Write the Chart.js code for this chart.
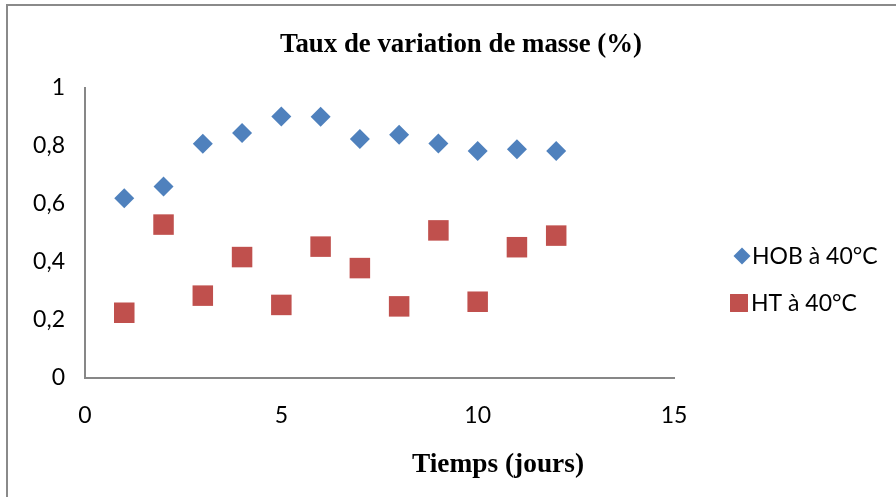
<!DOCTYPE html>
<html>
<head>
<meta charset="utf-8">
<script src="https://cdn.jsdelivr.net/npm/chart.js@4.4.0/dist/chart.umd.min.js"></script>
<style>
  html, body { margin: 0; padding: 0; background: #fff; overflow: hidden; }
  #wrap { width: 896px; height: 497px; position: relative; }
</style>
</head>
<body>
<div id="wrap"><canvas id="c" width="896" height="497"></canvas></div>
<script>
// Mass variation rate over 12 days, two treatments at 40 °C
const days = [1, 2, 3, 4, 5, 6, 7, 8, 9, 10, 11, 12];
const hobValues = [0.620, 0.660, 0.808, 0.845, 0.902, 0.901, 0.824, 0.839, 0.809, 0.783, 0.789, 0.783];
const htValues = [0.225, 0.529, 0.284, 0.417, 0.252, 0.453, 0.379, 0.247, 0.509, 0.263, 0.451, 0.491];
const seriesNames = ['HOB à 40°C', 'HT à 40°C'];
const yTickLabels = ['0', '0,2', '0,4', '0,6', '0,8', '1'];
const xTickLabels = ['0', '5', '10', '15'];
const chartTitle = 'Taux de variation de masse (%)';
const xAxisTitle = 'Tiemps (jours)';

const BLUE = '#4F81BD';
const RED = '#C0504D';
const AXIS = '#878787';

const toPoints = (vals) => days.map((d, i) => ({ x: d, y: vals[i] }));

// Frame, titles and legend drawn on the canvas around the plot
const decorations = {
  id: 'decorations',
  beforeDraw(chart) {
    const ctx = chart.ctx;
    ctx.save();
    ctx.fillStyle = '#fff';
    ctx.fillRect(0, 0, chart.width, chart.height);
    ctx.strokeStyle = '#8a8a8a';
    ctx.lineWidth = 2;
    ctx.strokeRect(7, 5, 1200, 1200);
    ctx.restore();
  },
  afterDraw(chart) {
    const ctx = chart.ctx;
    ctx.save();
    ctx.fillStyle = '#000';
    ctx.textBaseline = 'alphabetic';

    const drawFitted = (text, font, cx, baseline, width) => {
      ctx.font = font;
      const w = ctx.measureText(text).width;
      ctx.save();
      ctx.translate(cx, baseline);
      ctx.scale(width / w, 1);
      ctx.textAlign = 'center';
      ctx.fillText(text, 0, 0);
      ctx.restore();
    };
    drawFitted(chartTitle, 'bold 27px "Liberation Serif"', 461, 52, 362);
    drawFitted(xAxisTitle, 'bold 27px "Liberation Serif"', 498, 472, 172);

    // legend
    const items = chart.data.datasets.map((ds, i) => ({
      label: seriesNames[i], style: ds.pointStyle, color: ds.backgroundColor
    }));
    const rows = [
      { mx: 742, my: 256, r: 8.5, tx: 752 },
      { mx: 739, my: 303, r: 12.7, tx: 751 }
    ];
    ctx.font = '23px Lato';
    ctx.textAlign = 'left';
    ctx.textBaseline = 'middle';
    items.forEach((it, i) => {
      const row = rows[i];
      ctx.fillStyle = it.color;
      Chart.helpers.drawPoint(ctx, { pointStyle: it.style, radius: row.r, rotation: 0, borderWidth: 0 }, row.mx, row.my);
      ctx.fillStyle = '#000';
      ctx.fillText(it.label, row.tx, row.my + 1);
    });
    ctx.restore();
  }
};

new Chart(document.getElementById('c'), {
  type: 'scatter',
  data: {
    datasets: [
      {
        label: seriesNames[0],
        data: toPoints(hobValues),
        pointStyle: 'rectRot',
        pointRadius: 10,
        pointHoverRadius: 10,
        backgroundColor: BLUE,
        borderColor: BLUE,
        borderWidth: 0
      },
      {
        label: seriesNames[1],
        data: toPoints(htValues),
        pointStyle: 'rect',
        pointRadius: 14.5,
        pointHoverRadius: 14.5,
        backgroundColor: RED,
        borderColor: RED,
        borderWidth: 0
      }
    ]
  },
  options: {
    responsive: false,
    animation: false,
    devicePixelRatio: 1,
    layout: { padding: { top: 88, right: 222, bottom: 0, left: 0 } },
    plugins: {
      legend: { display: false },
      title: { display: false },
      tooltip: { enabled: false }
    },
    scales: {
      x: {
        type: 'linear',
        min: 0,
        max: 15,
        grid: { display: false, drawTicks: false },
        border: { display: true, color: AXIS, width: 2 },
        ticks: {
          stepSize: 5,
          padding: 24,
          color: '#000',
          font: { family: 'Lato', size: 23 },
          callback: (v) => xTickLabels[Math.round(v / 5)]
        },
        afterFit: (s) => { s.height = 119; }
      },
      y: {
        type: 'linear',
        min: 0,
        max: 1,
        grid: { display: false, drawTicks: false },
        border: { display: true, color: AXIS, width: 2 },
        ticks: {
          stepSize: 0.2,
          padding: 20,
          color: '#000',
          font: { family: 'Lato', size: 23 },
          callback: (v) => yTickLabels[Math.round(v / 0.2)]
        },
        afterFit: (s) => { s.width = 85; }
      }
    }
  },
  plugins: [decorations]
});
</script>
</body>
</html>
